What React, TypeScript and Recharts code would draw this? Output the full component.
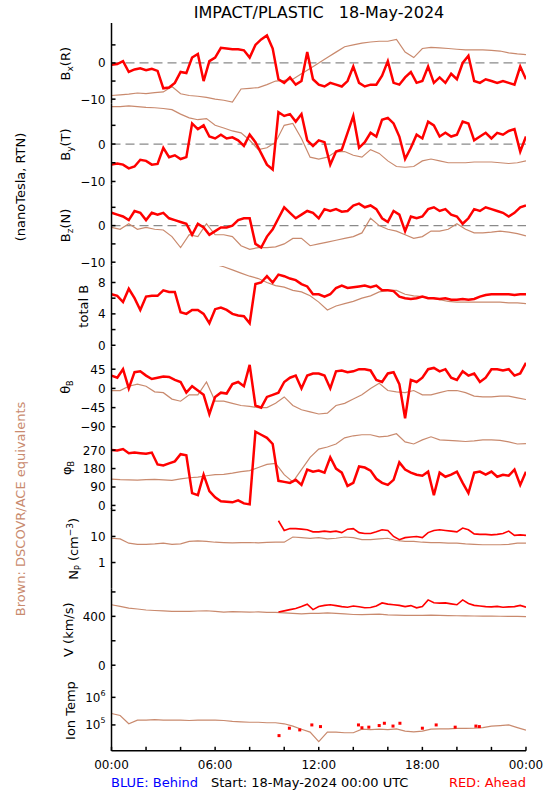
import React from "react";
import { ComposedChart, Line, Scatter, XAxis, YAxis, ReferenceLine } from "recharts";

const FONT = '"DejaVu Sans", Verdana, sans-serif';
const RED = "#ff0000";
const BROWN = "#c98a6e";

// time grids (hours since 18-May-2024 00:00 UTC)
const HOURS_20 = Array.from({ length: 73 }, (_, i) => i / 3);
const HOURS_30 = Array.from({ length: 49 }, (_, i) => i / 2);
const PLASMA_RED_HOURS = HOURS_20.slice(29);
const TIME_TICKS = [0, 2, 4, 6, 8, 10, 12, 14, 16, 18, 20, 22, 24];
const TIME_LABELS: Record<number, string> = { 0: "00:00", 6: "06:00", 12: "12:00", 18: "18:00", 24: "00:00" };

// ---- STEREO-A (red), 20 min ----
const bxRed = [
  -0.5, -0.3, 0.5, -2.5, -1.8, -1.5, -2.0, -1.6, -2.2, -7.0, -6.8, -5.5,
  -2.5, -2.8, 1.5, 2.5, -5.0, 0.5, 1.5, 4.2, 4.0, 3.8, 3.8, 3.5,
  1.5, 5.0, 6.5, 7.6, 4.0, -4.5, -5.5, -4.0, -6.0, -5.0, 3.0, -4.5,
  -6.0, -6.5, -5.5, -6.0, -6.5, -5.0, -1.0, -5.5, -6.5, -6.0, -6.0, -3.5,
  0.5, -5.5, -6.0, -4.0, -2.5, -5.5, -5.0, -1.0, -5.5, -4.0, -5.5, -3.0,
  -4.5, 0.0, 2.0, -5.0, -5.5, -4.5, -5.0, -5.5, -5.0, -5.5, -6.0, -1.0,
  -4.5,
];
const byRed = [
  -5.5, -5.2, -5.5, -6.5, -6.0, -4.2, -4.5, -5.5, -5.3, -1.0, -3.5, -3.0,
  -4.0, -3.5, 5.5, 4.0, 5.0, 2.0, 1.5, 2.5, 1.5, 1.8, 1.0, -0.5,
  2.5, 0.5, -2.5, -5.5, -6.8, 8.5, 7.5, 8.0, 6.0, 8.0, 1.0, -0.5,
  1.0, 0.5, -5.5, -2.0, -1.5, 3.0, 7.5, -1.0, 0.5, 3.0, 2.0, 6.5,
  7.0, 5.5, 2.0, -4.0, -1.0, 2.5, 1.5, 6.0, 5.0, 2.0, 3.0, 2.0,
  2.5, 6.0, 5.5, 1.0, 2.0, 3.0, 1.5, 3.0, 2.5, 3.5, 4.0, -2.0,
  2.0,
];
const bzRed = [
  3.5, 3.0, 2.5, 1.5, 4.0, 3.5, 1.5, 3.5, 3.0, 3.5, 2.0, 1.5,
  1.0, 0.5, -2.5, 0.5, -0.5, -2.5, -1.5, -0.5, -0.5, 0.0, 1.5, 2.0,
  2.0, -5.0, -6.0, -3.0, -1.0, 2.0, 5.0, 3.5, 2.0, 3.0, 4.0, 3.5,
  2.0, 4.5, 4.0, 4.5, 3.8, 4.0, 5.5, 6.0, 5.0, 5.5, 4.5, 2.0,
  1.0, 4.0, 3.0, -1.5, 2.5, 2.0, 2.5, 4.5, 5.0, 4.0, 4.5, 3.0,
  2.5, 0.5, 2.0, 4.5, 4.0, 5.0, 4.5, 4.0, 3.5, 2.5, 3.5, 5.0,
  5.5,
];
const btRed = [
  6.5, 6.3, 5.5, 7.2, 6.0, 4.5, 6.2, 6.3, 6.3, 7.0, 6.8, 6.8,
  4.2, 4.0, 4.5, 4.5, 4.0, 2.8, 4.6, 4.8, 4.5, 4.0, 3.8, 3.7,
  2.8, 7.8, 8.0, 8.8, 8.0, 9.0, 8.8, 8.5, 8.3, 7.8, 7.5, 6.5,
  6.5, 6.2, 6.5, 7.3, 7.6, 7.3, 7.4, 7.5, 7.6, 7.4, 7.6, 7.0,
  7.0, 6.9, 6.2, 6.0, 5.9, 6.0, 6.2, 6.0, 6.0, 5.9, 6.0, 5.8,
  5.8, 5.9, 5.8, 5.9, 6.2, 6.4, 6.5, 6.5, 6.5, 6.5, 6.4, 6.5,
  6.5,
];
const thetaRed = [
  30, 25, 45, 0, 38, 40, 30, 22, 25, 28, 27, 20,
  15, -10, 5, -5, -15, -60, -20, -10, -12, 10, 15, 5,
  55, -40, -45, -20, -15, -10, 15, 25, 30, 0, 30, 35,
  35, 30, 0, 40, 42, 38, 40, 45, 45, 42, 20, 15,
  35, 38, 10, -70, 20, 15, 25, 45, 48, 40, 45, 25,
  20, 40, 30, 35, 15, 25, 45, 45, 42, 45, 30, 35,
  60,
];
const phiRed = [
  270, 268, 275, 255, 258, 255, 252, 258, 200, 195, 205, 215,
  250, 245, 60, 50, 150, 70, 40, 20, 18, 15, 25, 10,
  5, 360, 345, 330, 300, 120, 115, 110, 125, 100, 175, 165,
  170, 160, 235, 180, 160, 95, 110, 190, 185, 170, 130, 110,
  100, 125, 210, 175, 160, 150, 145, 165, 50, 160, 140, 150,
  165, 110, 60, 160, 165, 150, 165, 140, 150, 145, 175, 100,
  165,
];
const npRed = [
  40, 17, 20, 20, 19, 18, 15, 15, 16, 15,
  16, 14, 19, 20, 14, 13, 13, 15, 18, 17,
  10, 7.5, 9, 9.5, 10, 9, 14, 17, 18, 17,
  16, 15, 21, 18, 12.5, 12, 12, 11.5, 12, 13,
  16, 11, 11.5, 11,
];
const vRed = [
  435, 445, 455, 465, 480, 500, 455, 480, 490, 495,
  488, 480, 475, 485, 478, 470, 472, 485, 510, 500,
  495, 490, 480, 488, 470, 480, 535, 512, 508, 510,
  502, 495, 535, 505, 490, 485, 480, 478, 482, 475,
  478, 480, 490, 475,
];
const tempRedHours = [9.7, 10.3, 10.9, 11.6, 12.1, 14.3, 14.5, 14.9, 15.5, 15.8, 16.3, 16.7, 18.0, 18.8, 19.9, 21.1, 21.3];
const tempRed = [4.1e4, 7.6e4, 6.6e4, 1e5, 8.7e4, 1e5, 7.9e4, 8.3e4, 9.5e4, 1.15e5, 9.1e4, 1.15e5, 7.6e4, 1e5, 8.3e4, 9.1e4, 8.7e4];

// ---- DSCOVR/ACE (brown), 30 min ----
const bxBrown = [
  -9.0, -8.8, -8.6, -8.3, -8.5, -8.2, -8.0, -6.5,
  -8.5, -9.0, -9.2, -9.5, -10.0, -10.3, -10.8, -7.2,
  -7.0, -6.8, -6.0, -5.0, -4.8, -4.5, -3.0, -1.5,
  0.0, 1.5, 3.0, 4.5, 5.0, 5.5, 5.8, 6.0,
  6.0, 6.5, 3.0, 1.5, 4.0, 4.3, 4.2, 4.0,
  3.8, 3.6, 3.6, 3.6, 3.5, 3.3, 2.8, 2.5,
  2.3,
];
const byBrown = [
  10.0, 10.0, 10.2, 10.0, 9.8, 9.7, 9.5, 9.2,
  8.0, 7.0, 6.5, 6.8, 5.0, 4.3, 3.5, 3.0,
  1.0, -1.5, -1.0, 0.5, 5.0, 5.5, 1.5, -3.5,
  -4.0, -3.5, -2.0, -2.0, -3.0, -3.5, -1.5, -2.5,
  -4.5, -6.0, -6.2, -6.0, -4.5, -4.0, -4.5, -5.0,
  -5.0, -5.0, -4.8, -4.8, -4.8, -5.0, -5.2, -5.0,
  -4.5,
];
const bzBrown = [
  -0.5, -1.0, 0.5, -1.0, -0.5, -1.0, -1.2, -3.0,
  -6.0, -2.5, -3.0, 0.5, -2.5, -2.5, -3.0, -5.5,
  -6.5, -6.0, -6.0, -5.8, -5.0, -3.5, -3.5, -5.5,
  -5.0, -4.5, -4.0, -3.5, -3.0, -2.0, 2.0, 0.0,
  -1.0, -1.5, -2.5, -3.5, -3.0, -1.5, -1.5, -1.0,
  0.5, -1.0, -2.0, -2.0, -1.8, -1.5, -1.8, -2.2,
  -2.8,
];
const btBrown = [
  null, null, null, null, null, null, null, null,
  null, null, null, null, 10.3, 10.0, 9.6, 9.2,
  8.8, 8.5, 8.0, 7.6, 7.4, 7.0, 6.8, 6.3,
  5.5, 4.5, 5.0, 5.3, 5.6, 6.0, 6.3, 6.8,
  7.0, 7.0, 6.5, 6.3, 6.2, 6.0, 5.8, 5.6,
  5.5, 5.5, 5.5, 5.5, 5.5, 5.5, 5.4, 5.4,
  5.3,
];
const thetaBrown = [
  -5, -5, 5, 10, 5, -8, -10, -25,
  -30, -15, -15, 15, -30, -30, -35, -40,
  -42, -45, -45, -35, -20, -40, -50, -55,
  -60, -58, -40, -35, -25, -15, 0, 12,
  -5, -8, -10, -5, -15, -15, -10, -5,
  -5, -10, -18, -20, -20, -18, -18, -22,
  -26,
];
const phiBrown = [
  128, 126, 125, 124, 126, 127, 125, 122,
  130, 135, 138, 145, 150, 152, 158, 165,
  170, 185, 200, 205, 150, 115, 175, 235,
  275, 285, 300, 330, 340, 345, 345, 335,
  338, 350, 310, 300, 320, 335, 320, 318,
  315, 312, 315, 320, 320, 318, 310, 300,
  302,
];
const npBrown = [
  8.5, 8.0, 5.5, 5.0, 5.0, 5.2, 5.5, 5.0,
  5.2, 6.5, 6.8, 6.5, 6.0, 5.8, 5.7, 5.8,
  5.8, 5.7, 5.9, 6.0, 6.0, 9.5, 9.0, 8.5,
  9.0, 8.0, 8.5, 9.5, 9.0, 7.5, 7.5, 8.0,
  8.5, 7.0, 6.5, 6.5, 6.0, 5.8, 5.8, 5.5,
  5.5, 5.2, 5.0, 4.8, 4.8, 4.8, 5.0, 5.5,
  5.5,
];
const vBrown = [
  495, 482, 468, 460, 452, 448, 445, 440,
  442, 440, 444, 446, 440, 435, 438, 436,
  435, 436, 433, 432, 428, 425, 420, 425,
  425, 428, 424, 420, 415, 414, 416, 418,
  412, 410, 408, 408, 408, 410, 408, 406,
  405, 404, 403, 402, 402, 401, 400, 400,
  398,
];
const tempBrown = [
  2.6e5, 2.2e5, 1.1e5, 1.5e5, 1.5e5, 1.55e5, 1.5e5, 1.5e5,
  1.5e5, 1.45e5, 1.5e5, 1.5e5, 1.5e5, 1.45e5, 1.35e5, 1.3e5,
  1.25e5, 1.25e5, 1.2e5, 1.2e5, 1.1e5, 9e4, 7e4, 5.5e4,
  2.5e4, 5.5e4, 5.5e4, 5.2e4, 5.2e4, 7e4, 6.8e4, 7e4,
  6.8e4, 7.2e4, 6e4, 5.6e4, 6e4, 7e4, 7.2e4, 7.2e4,
  7.5e4, 7.5e4, 7.6e4, 8e4, 9e4, 9.5e4, 1e5, 8e4,
  6.5e4,
];

const PANEL_TOP = 23.3;
const PANEL_H = 80.85;
const LABEL_H = 26;
const PAD = 10; // room for tick labels that sit on a panel edge
const AXIS = { stroke: "#000", strokeWidth: 1.5 };

type Trace = { hours: number[]; values: (number | null)[]; color: string; width: number };
type PanelProps = {
  index: number;
  domain: [number, number];
  ticks: number[];
  labels: Record<string, string[]>;
  log?: boolean;
  traces: Trace[];
  dots?: { hours: number[]; values: number[] };
  zeroLine?: boolean;
  showTime?: boolean;
};

const pts = (hours: number[], values: (number | null)[]) => hours.map((t, i) => ({ t, v: values[i] }));

function YTick(props: any) {
  const { x, y, payload, labels } = props;
  const lab = labels[String(payload.value)];
  if (!lab) return <g />;
  return (
    <text x={x} y={y} dy={4.5} textAnchor="end" fontSize={12} fontFamily={FONT} fill="#000">
      {lab[0]}
      {lab[1] && (
        <tspan dy={-6} fontSize={8}>
          {lab[1]}
        </tspan>
      )}
    </text>
  );
}

function Panel(p: PanelProps) {
  const top = PANEL_TOP + p.index * PANEL_H;
  const extra = p.showTime ? LABEL_H : 0;
  const scale = p.log ? "log" : "linear";
  return (
    <div style={{ position: "absolute", left: 0, top: top - PAD }}>
      <ComposedChart
        width={550}
        height={PANEL_H + extra + 2 * PAD}
        margin={{ top: PAD, right: 24, bottom: PAD, left: 0 }}
      >
        <XAxis
          xAxisId="b"
          type="number"
          dataKey="t"
          domain={[0, 24]}
          ticks={TIME_TICKS}
          interval={0}
          allowDataOverflow
          height={extra}
          tickSize={-4}
          tickMargin={13.5}
          axisLine={AXIS}
          tickLine={AXIS}
          tickFormatter={(v: number) => (p.showTime ? TIME_LABELS[v] ?? "" : "")}
          tick={{ fontSize: 12, fill: "#000", fontFamily: FONT }}
        />
        <XAxis
          xAxisId="t"
          orientation="top"
          type="number"
          dataKey="t"
          domain={[0, 24]}
          ticks={TIME_TICKS}
          interval={0}
          height={0}
          tickSize={-4}
          axisLine={AXIS}
          tickLine={AXIS}
          tickFormatter={() => ""}
        />
        <YAxis
          yAxisId="l"
          type="number"
          dataKey="v"
          scale={scale}
          domain={p.domain}
          ticks={p.ticks}
          interval={0}
          allowDataOverflow
          width={111.5}
          tickSize={-4}
          tickMargin={10}
          axisLine={AXIS}
          tickLine={AXIS}
          tick={<YTick labels={p.labels} />}
        />
        <YAxis
          yAxisId="r"
          orientation="right"
          type="number"
          dataKey="v"
          scale={scale}
          domain={p.domain}
          ticks={p.ticks}
          interval={0}
          allowDataOverflow
          width={0}
          tickSize={-4}
          axisLine={AXIS}
          tickLine={AXIS}
          tickFormatter={() => ""}
        />
        {p.zeroLine && (
          <ReferenceLine xAxisId="b" yAxisId="l" y={0} stroke="#8a8a8a" strokeWidth={1.3} strokeDasharray="9 5" />
        )}
        {p.traces.map((tr, i) => (
          <Line
            key={i}
            xAxisId="b"
            yAxisId="l"
            data={pts(tr.hours, tr.values)}
            dataKey="v"
            type="linear"
            stroke={tr.color}
            strokeWidth={tr.width}
            dot={false}
            connectNulls={false}
            isAnimationActive={false}
          />
        ))}
        {p.dots && (
          <Scatter
            xAxisId="b"
            yAxisId="l"
            data={pts(p.dots.hours, p.dots.values)}
            dataKey="v"
            isAnimationActive={false}
            shape={(s: any) => <rect x={s.cx - 1.5} y={s.cy - 1.5} width={3} height={3} fill={RED} />}
          />
        )}
      </ComposedChart>
    </div>
  );
}

const brown = (values: (number | null)[]): Trace => ({ hours: HOURS_30, values, color: BROWN, width: 1.2 });
const red = (values: number[]): Trace => ({ hours: HOURS_20, values, color: RED, width: 2.5 });
const redPlasma = (values: number[]): Trace => ({ hours: PLASMA_RED_HOURS, values, color: RED, width: 1.6 });

const FIELD_LABELS = { "0": ["0"], "-10": ["\u221210"] };

function RotLabel({ x, cy, children, color = "#000", size = 13 }: any) {
  return (
    <text transform={`translate(${x},${cy}) rotate(-90)`} textAnchor="middle" fontSize={size} fill={color}>
      {children}
    </text>
  );
}

export default function App() {
  const mid = (i: number) => PANEL_TOP + (i + 0.5) * PANEL_H;
  return (
    <div style={{ position: "absolute", left: 0, top: 0, width: 550, height: 800, background: "#fff" }}>
      <Panel index={0} domain={[-11.3, 11.05]} ticks={[-10, -5, 0, 5]} labels={FIELD_LABELS} zeroLine
        traces={[brown(bxBrown), red(bxRed)]} />
      <Panel index={1} domain={[-10.9, 10.7]} ticks={[-10, -5, 0, 5]} labels={FIELD_LABELS} zeroLine
        traces={[brown(byBrown), red(byRed)]} />
      <Panel index={2} domain={[-11, 11.1]} ticks={[-10, -5, 0, 5]} labels={FIELD_LABELS} zeroLine
        traces={[brown(bzBrown), red(bzRed)]} />
      <Panel index={3} domain={[-0.2, 10.1]} ticks={[0, 2, 4, 6, 8]} labels={{ "0": ["0"], "4": ["4"], "8": ["8"] }}
        traces={[brown(btBrown), red(btRed)]} />
      <Panel index={4} domain={[-92.4, 97]} ticks={[-90, -45, 0, 45]}
        labels={{ "45": ["45"], "0": ["0"], "-45": ["\u221245"], "-90": ["\u221290"] }}
        traces={[brown(thetaBrown), red(thetaRed)]} />
      <Panel index={5} domain={[-16.7, 378]} ticks={[0, 90, 180, 270]}
        labels={{ "0": ["0"], "90": ["90"], "180": ["180"], "270": ["270"] }}
        traces={[brown(phiBrown), red(phiRed)]} />
      <Panel index={6} log domain={[0.098, 123]} ticks={[1, 10, 100]} labels={{ "1": ["1"], "10": ["10"] }}
        traces={[brown(npBrown), redPlasma(npRed)]} />
      <Panel index={7} domain={[-38, 624]} ticks={[0, 200, 400, 600]} labels={{ "0": ["0"], "400": ["400"] }}
        traces={[brown(vBrown), redPlasma(vRed)]} />
      <Panel index={8} log domain={[11500, 9.8e6]} ticks={[1e5, 1e6]} labels={{ "100000": ["10", "5"], "1000000": ["10", "6"] }}
        traces={[brown(tempBrown)]} dots={{ hours: tempRedHours, values: tempRed }} showTime />

      <svg width={550} height={800} style={{ position: "absolute", left: 0, top: 0, pointerEvents: "none" }} fontFamily={FONT}>
        <text x={319} y={17.5} fontSize={16} textAnchor="middle" style={{ whiteSpace: "pre" }}>
          {"IMPACT/PLASTIC   18-May-2024"}
        </text>
        <RotLabel x={70} cy={mid(0)}>B<tspan dy={3} fontSize={9}>x</tspan><tspan dy={-3}>(R)</tspan></RotLabel>
        <RotLabel x={70} cy={mid(1)}>B<tspan dy={3} fontSize={9}>y</tspan><tspan dy={-3}>(T)</tspan></RotLabel>
        <RotLabel x={70} cy={mid(2)}>B<tspan dy={3} fontSize={9}>z</tspan><tspan dy={-3}>(N)</tspan></RotLabel>
        <RotLabel x={88} cy={mid(3)}>total B</RotLabel>
        <RotLabel x={70} cy={mid(4)}>{"\u03b8"}<tspan dy={3} fontSize={8}>B</tspan></RotLabel>
        <RotLabel x={71} cy={mid(5)}>{"\u03c6"}<tspan dy={3} fontSize={8}>B</tspan></RotLabel>
        <RotLabel x={78} cy={mid(6)}>
          N<tspan dy={3} fontSize={8}>P</tspan><tspan dy={-3}>{" (cm"}</tspan><tspan dy={-5} fontSize={9}>{"\u22123"}</tspan><tspan dy={5}>)</tspan>
        </RotLabel>
        <RotLabel x={73} cy={mid(7)}>V (km/s)</RotLabel>
        <RotLabel x={75} cy={mid(8)}>Ion Temp</RotLabel>
        <RotLabel x={24.5} cy={187}>(nanoTesla, RTN)</RotLabel>
        <RotLabel x={24.5} cy={509} color={BROWN}>Brown: DSCOVR/ACE equivalents</RotLabel>
        <text x={111} y={787} fontSize={13} fill="#0000ff">BLUE: Behind</text>
        <text x={211} y={787} fontSize={13} fill="#000">Start: 18-May-2024 00:00 UTC</text>
        <text x={526} y={787} fontSize={13} fill={RED} textAnchor="end">RED: Ahead</text>
      </svg>
    </div>
  );
}
